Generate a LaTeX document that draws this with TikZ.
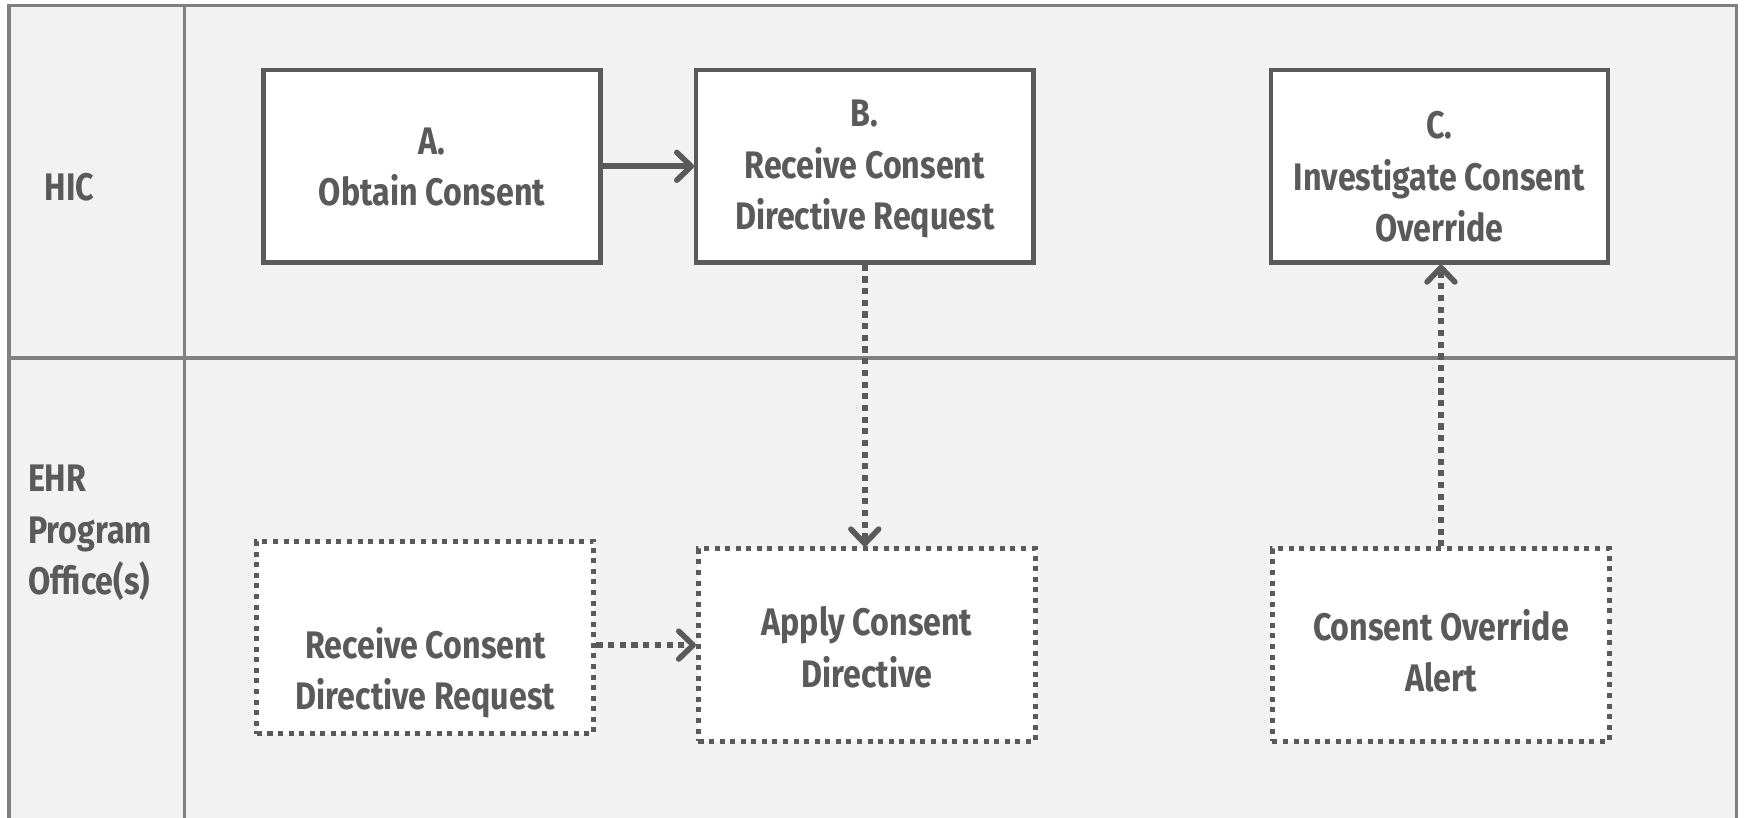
\documentclass[tikz,border=0pt]{standalone}
\usepackage{fontspec}
\newfontfamily\lanefont{Fira Sans}[FakeStretch=0.84]
\usetikzlibrary{arrows.meta}
\definecolor{ink}{HTML}{5A5A5A}
\definecolor{lane}{HTML}{808080}
\definecolor{paper}{HTML}{F2F2F2}
\begin{document}
\begin{tikzpicture}[x=1pt,y=-1pt,
  every node/.style={font=\lanefont\bfseries\fontsize{34.5}{46}\selectfont, text=ink},
  solidbox/.style={draw=ink, line width=4pt, fill=white, minimum width=303pt, minimum height=173pt, inner sep=0pt},
  dotbox/.style={solidbox, line width=4.5pt, dash pattern=on 4.5pt off 5pt},
  txt/.style={align=center, inner sep=0pt},
  lanetxt/.style={align=left, inner sep=0pt, anchor=west},
  flow/.style={draw=ink, line width=5pt, -{Straight Barb[length=13pt,width=25pt,line cap=round,line join=round]}},
  dflow/.style={flow, dash pattern=on 5.5pt off 5pt},
  laneline/.style={draw=lane, line width=3pt},
]
\useasboundingbox (0,0) rectangle (1568,735);
\fill[white] (0,0) rectangle (1568,735);

% swimlane frame
\fill[paper] (8,5) rectangle (1561,760);
\draw[laneline] (8,760) -- (8,5) -- (1561,5) -- (1561,760);
\draw[laneline] (166,5) -- (166,760);
\draw[laneline] (8,322) -- (1561,322);

% lane titles
\node[lanetxt] (hic) at (40,168) {HIC};
\node[lanetxt] (ehr) at (25,479) {EHR\\Program\\Office(s)};

% process boxes
\node[solidbox] (A) at (388.5,149.5) {};
\node[solidbox] (B) at (777.5,149.5) {};
\node[solidbox] (C) at (1294,149.5) {};
\node[dotbox] (rcv) at (382.5,573) {};
\node[dotbox] (apply) at (779.5,580) {};
\node[dotbox] (alert) at (1295.5,580) {};

\node[txt] (Atext) at (388.5,150.5) {A.\\Obtain Consent};
\node[txt] (Btext) at (777.5,152) {B.\\Receive Consent\\Directive Request};
\node[txt] (Ctext) at (1294,159) {C.\\Investigate Consent\\Override};
\node[txt] (rcvtext) at (382.5,605) {Receive Consent\\Directive Request};
\node[txt] (applytext) at (779.5,582) {Apply Consent\\Directive};
\node[txt] (alerttext) at (1295.5,585) {Consent Override\\Alert};

% connectors
\draw[flow] (A.east) -- (B.west);
\draw[dflow] (B.south) -- (B.south |- apply.north);
\draw[dflow] (alert.north) -- (alert.north |- C.south);
\draw[dflow] (apply.west -| rcv.east) -- (apply.west);
\end{tikzpicture}
\end{document}
